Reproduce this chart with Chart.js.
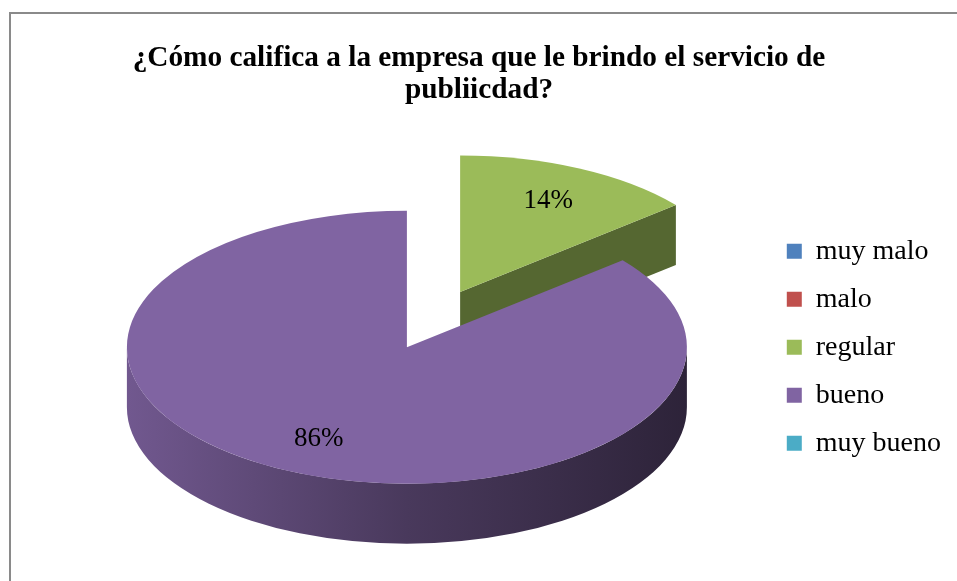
<!DOCTYPE html>
<html lang="es">
<head>
<meta charset="utf-8">
<title>Calificación de la empresa de publicidad</title>
<script src="https://cdn.jsdelivr.net/npm/chart.js@4.4.1/dist/chart.umd.min.js"></script>
<style>
  html, body { margin: 0; padding: 0; background: #fff; overflow: hidden; }
  #frame {
    position: absolute; left: 9px; top: 12px; width: 1000px; height: 620px;
    border-top: 2px solid #8a8a8a; border-left: 2px solid #8a8a8a;
  }
  #chart { position: absolute; left: 0; top: 0; }
</style>
</head>
<body>
<div id="frame"></div>
<canvas id="chart" width="957" height="581"></canvas>
<script>
// Encuesta · calificación de la empresa de publicidad

const categories = ['muy malo', 'malo', 'regular', 'bueno', 'muy bueno'];
const shares = [0, 0, 14, 86, 0];
const sliceColors = ['#4F81BD', '#C0504D', '#9BBB59', '#8064A2', '#4BACC6'];
const titleLines = ['¿Cómo califica a la empresa que le brindo el servicio de', 'publiicdad?'];

// 3D look: squash of the top face, wall thickness and pulled-out slices
const TILT = 0.4875;
const DEPTH = 60;
const EXPLODE = [0, 0, 125, 0, 0];
const PIE_SHIFT_X = 20;   // nudge the pie right of the plot-area centre

const SERIF = "'Times New Roman', 'Liberation Serif', serif";

function shade(hex, f) {
  const n = parseInt(hex.slice(1), 16);
  const r = Math.round(((n >> 16) & 255) * f);
  const g = Math.round(((n >> 8) & 255) * f);
  const b = Math.round((n & 255) * f);
  return `rgb(${r},${g},${b})`;
}

function centerY(chart) {
  return (chart.chartArea.top + chart.chartArea.bottom) / 2;
}

// cut face of a slice, from the centre out to the rim at angle a
function drawWall(ctx, x, y, r, a, color) {
  const rx = x + r * Math.cos(a);
  const ry = y + r * TILT * Math.sin(a);
  ctx.beginPath();
  ctx.moveTo(x, y);
  ctx.lineTo(rx, ry);
  ctx.lineTo(rx, ry + DEPTH);
  ctx.lineTo(x, y + DEPTH);
  ctx.closePath();
  ctx.fillStyle = shade(color, 0.55);
  ctx.fill();
}

// outer wall, only the part facing the viewer (lower half of the ellipse)
function drawRim(ctx, x, y, r, s, e, color) {
  for (const m of [-2 * Math.PI, 0, 2 * Math.PI]) {
    const lo = Math.max(s, m);
    const hi = Math.min(e, m + Math.PI);
    if (hi <= lo) continue;
    const g = ctx.createLinearGradient(x - r, 0, x + r, 0);
    g.addColorStop(0, shade(color, 0.88));
    g.addColorStop(0.5, shade(color, 0.57));
    g.addColorStop(1, shade(color, 0.35));
    ctx.beginPath();
    ctx.ellipse(x, y, r, r * TILT, 0, lo - m, hi - m, false);
    ctx.ellipse(x, y + DEPTH, r, r * TILT, 0, hi - m, lo - m, true);
    ctx.closePath();
    ctx.fillStyle = g;
    ctx.fill();
  }
}

const pie3d = {
  id: 'pie3d',
  afterDatasetsUpdate(chart) {
    chart.getDatasetMeta(0).data.forEach((arc, i) => {
      const d = EXPLODE[i] || 0;
      const h = (arc.startAngle + arc.endAngle) / 2;
      arc.x += PIE_SHIFT_X + Math.cos(h) * d;
      arc.y += Math.sin(h) * d;
    });
  },
  beforeDatasetsDraw(chart) {
    const ctx = chart.ctx;
    const cy = centerY(chart);
    const arcs = chart.getDatasetMeta(0).data;

    // cut faces first, then the rims
    arcs.forEach((arc, i) => {
      if (!arc.circumference) return;
      const y = cy + (arc.y - cy) * TILT;
      if (Math.cos(arc.startAngle) < 0) drawWall(ctx, arc.x, y, arc.outerRadius, arc.startAngle, sliceColors[i]);
      if (Math.cos(arc.endAngle) > 0) drawWall(ctx, arc.x, y, arc.outerRadius, arc.endAngle, sliceColors[i]);
    });
    arcs.forEach((arc, i) => {
      if (!arc.circumference) return;
      const y = cy + (arc.y - cy) * TILT;
      drawRim(ctx, arc.x, y, arc.outerRadius, arc.startAngle, arc.endAngle, sliceColors[i]);
    });

    // top faces are drawn by the library, squashed into an ellipse
    ctx.save();
    ctx.translate(0, cy);
    ctx.scale(1, TILT);
    ctx.translate(0, -cy);
  },
  afterDatasetsDraw(chart) {
    const ctx = chart.ctx;
    ctx.restore();

    const cy = centerY(chart);
    const total = shares.reduce((a, b) => a + b, 0);
    ctx.save();
    ctx.fillStyle = '#000';
    ctx.font = `27px ${SERIF}`;
    ctx.textAlign = 'center';
    ctx.textBaseline = 'middle';
    chart.getDatasetMeta(0).data.forEach((arc, i) => {
      if (!shares[i]) return;
      const h = (arc.startAngle + arc.endAngle) / 2;
      const f = 0.74 * arc.outerRadius;
      const lx = arc.x + Math.cos(h) * f;
      const ly = cy + (arc.y + Math.sin(h) * f - cy) * TILT;
      ctx.fillText(Math.round(shares[i] / total * 100) + '%', lx, ly);
    });
    ctx.restore();
  }
};

new Chart(document.getElementById('chart'), {
  type: 'pie',
  data: {
    labels: categories,
    datasets: [{
      data: shares,
      backgroundColor: sliceColors,
      borderWidth: 0,
      clip: false,
    }]
  },
  options: {
    responsive: false,
    animation: false,
    events: [],
    radius: 280,
    layout: { padding: { left: 7, right: 6, top: 0, bottom: 3 } },
    plugins: {
      title: {
        display: true,
        text: titleLines,
        color: '#000',
        font: { family: SERIF, size: 29.3, weight: 'bold', lineHeight: 1.1 },
        padding: { top: 42, bottom: 10 }
      },
      legend: {
        position: 'right',
        fullSize: false,
        labels: {
          boxWidth: 15,
          boxHeight: 15,
          padding: 20,
          color: '#000',
          font: { family: SERIF, size: 28 }
        }
      },
      tooltip: { enabled: false }
    }
  },
  plugins: [pie3d]
});
</script>
</body>
</html>
